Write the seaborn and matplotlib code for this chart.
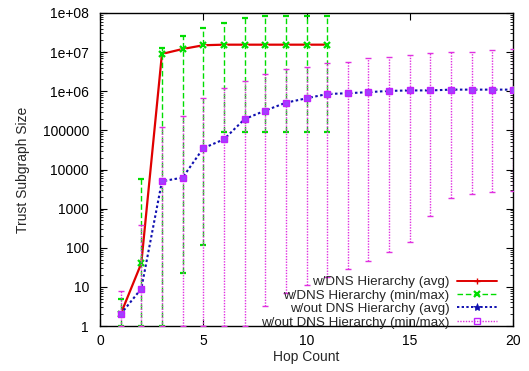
import numpy as np
import pandas as pd
import matplotlib
matplotlib.use("Agg")
import matplotlib.pyplot as plt
from matplotlib.lines import Line2D
import seaborn as sns
from matplotlib.ticker import FixedLocator, FixedFormatter, LogLocator, NullFormatter

# ---- data ----
hops_dns = [1, 2, 3, 4, 5, 6, 7, 8, 9, 10, 11]
dns_avg = [2, 40, 9e6, 1.2e7, 1.5e7, 1.55e7, 1.55e7, 1.55e7, 1.55e7, 1.55e7, 1.55e7]
dns_min = [1, 1, 1, 23, 117, 9e4, 9e4, 9e4, 9e4, 9e4, 9e4]
dns_max = [5, 5700, 1.3e7, 2.6e7, 4.2e7, 5.6e7, 7.5e7, 8.5e7, 8.5e7, 8.5e7, 8.5e7]

hops_nodns = list(range(1, 21))
nodns_avg = [2, 9, 5000, 6200, 35000, 59000, 1.94e5, 3.2e5, 5.1e5, 6.6e5,
             8.5e5, 8.9e5, 9.5e5, 1.02e6, 1.05e6, 1.05e6, 1.1e6, 1.1e6, 1.1e6, 1.1e6]
nodns_min = [1, 1, 1, 1, 1, 1, 1, 3.2, 7, 11,
             18, 28, 47, 80, 140, 660, 1900, 2300, 2700, 2900]
nodns_max = [8, 380, 1.2e5, 2.3e5, 6.8e5, 1.2e6, 1.8e6, 2.8e6, 3.7e6, 4.2e6,
             5.3e6, 5.6e6, 7e6, 7.6e6, 8.5e6, 9.6e6, 1e7, 1e7, 1.15e7, 1.2e7]

labels = ["w/DNS Hierarchy (avg)", "w/DNS Hierarchy (min/max)",
          "w/out DNS Hierarchy (avg)", "w/out DNS Hierarchy (min/max)"]
xticks = [0, 5, 10, 15, 20]
yticks = [1, 10, 100, 1000, 10000, 100000, 1e6, 1e7, 1e8]
ytick_labels = ["1", "10", "100", "1000", "10000", "100000", "1e+06", "1e+07", "1e+08"]

df_dns = pd.DataFrame({"hop": hops_dns, "avg": dns_avg, "lo": dns_min, "hi": dns_max})
df_nodns = pd.DataFrame({"hop": hops_nodns, "avg": nodns_avg, "lo": nodns_min, "hi": nodns_max})

sns.set_style("ticks")
plt.rcParams["font.family"] = ["Liberation Sans", "DejaVu Sans"]
FS = 10
LFS = 9.6

fig = plt.figure(figsize=(5.29, 3.71), dpi=100)
ax = fig.add_axes([100 / 529, 1 - 326 / 371, 413 / 529, 313 / 371])

RED = "#e00000"
GREEN = "#00dd00"
BLUE = "#1010b0"
MAG = "#e030e0"
SQ_FACE = "#a040ff"
SQ_EDGE = "#c020ff"

# red avg line
sns.lineplot(data=df_dns, x="hop", y="avg", ax=ax, color=RED, lw=1.6,
             marker="+", markersize=5, markeredgewidth=1.0, zorder=2, legend=False)
# green min/max error bars
ax.errorbar(df_dns["hop"], df_dns["avg"],
            yerr=[df_dns["avg"] - df_dns["lo"], df_dns["hi"] - df_dns["avg"]],
            fmt="x", color=GREEN, ecolor=GREEN, elinewidth=1.0, capsize=2.0,
            capthick=1.0, markersize=4.5, markeredgewidth=1.6,
            ls="none", zorder=3)
for lc in ax.containers[-1].lines[2]:
    lc.set_linestyle((0, (4, 2)))

# blue avg line
sns.lineplot(data=df_nodns, x="hop", y="avg", ax=ax, color=BLUE, lw=1.5,
             marker="*", markersize=6, markeredgewidth=0.5,
             linestyle=(0, (1.2, 1.2)), zorder=4, legend=False)
# magenta min/max error bars
ax.errorbar(df_nodns["hop"], df_nodns["avg"],
            yerr=[df_nodns["avg"] - df_nodns["lo"], df_nodns["hi"] - df_nodns["avg"]],
            fmt="s", color=MAG, ecolor=MAG, elinewidth=1.0, capsize=2.0,
            capthick=1.0, markersize=4.2, markerfacecolor=SQ_FACE,
            markeredgecolor=SQ_EDGE, markeredgewidth=1.0,
            ls="none", zorder=5)
for lc in ax.containers[-1].lines[2]:
    lc.set_linestyle((0, (1, 1)))

ax.set_yscale("log")
ax.set_xlim(0, 20)
ax.set_ylim(1, 1e8)
ax.xaxis.set_major_locator(FixedLocator(xticks))
ax.yaxis.set_major_locator(FixedLocator(yticks))
ax.yaxis.set_major_formatter(FixedFormatter(ytick_labels))
ax.yaxis.set_minor_locator(LogLocator(base=10, subs=np.arange(2, 10)))
ax.yaxis.set_minor_formatter(NullFormatter())
ax.tick_params(axis="both", which="both", direction="in", top=True, right=True,
               colors="black", labelsize=FS)
ax.tick_params(axis="y", which="major", length=5, width=0.8, pad=8)
ax.tick_params(axis="x", which="major", length=5, width=0.8, pad=6)
ax.tick_params(which="minor", length=2.5, width=0.6)
for s in ax.spines.values():
    s.set_linewidth(1.0)
    s.set_color("black")

ax.set_xlabel("Hop Count", fontsize=FS, labelpad=1)
ax.set_ylabel("Trust Subgraph Size", fontsize=FS, labelpad=9)

# legend (text then sample, right-aligned) in gnuplot style
handles = [
    Line2D([], [], color=RED, lw=1.4, marker="+", markersize=5, markeredgewidth=1.0),
    Line2D([], [], color=GREEN, lw=1.0, ls=(0, (4, 2)), marker="x", markersize=4.5,
           markeredgewidth=1.6),
    Line2D([], [], color=BLUE, lw=1.4, ls=(0, (1.2, 1.2)), marker="*", markersize=6,
           markeredgewidth=0.5),
    Line2D([], [], color=MAG, lw=1.0, ls=(0, (1, 1)), marker="s", markersize=4.2,
           markerfacecolor="none", markeredgecolor=SQ_EDGE, markeredgewidth=1.0),
]
leg = ax.legend(handles, labels, loc="lower right",
                bbox_to_anchor=(0.985, -0.038), frameon=False, markerfirst=False,
                handlelength=3.0, handletextpad=0.6, labelspacing=0.08,
                borderpad=0.2, fontsize=LFS)

fig.savefig("out.png", dpi=100)
